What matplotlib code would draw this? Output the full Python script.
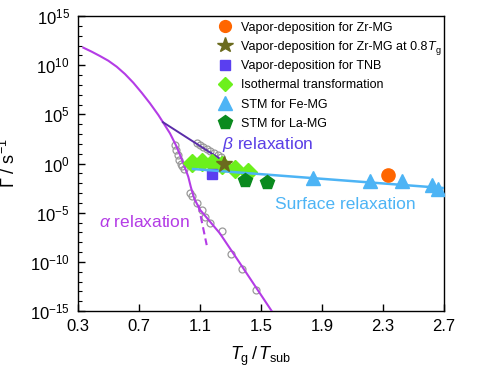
import numpy as np
import matplotlib
matplotlib.use("Agg")
import matplotlib.pyplot as plt
from matplotlib.lines import Line2D
from matplotlib.ticker import NullFormatter

plt.rcParams['font.family'] = 'Liberation Sans'
plt.rcParams['mathtext.fontset'] = 'custom'
plt.rcParams['mathtext.rm'] = 'Liberation Sans'
plt.rcParams['mathtext.it'] = 'Liberation Sans:italic'
plt.rcParams['mathtext.bf'] = 'Liberation Sans:bold'

# ---------------- data (x = Tg/Tsub, values as log10 of rate) ----------------
alpha_x = [0.335, 0.390, 0.444, 0.499, 0.554, 0.608, 0.663, 0.718, 0.772, 0.827,
           0.859, 0.903, 0.947, 0.991, 1.023, 1.040, 1.063, 1.10, 1.23, 1.36, 1.57]
alpha_log = [11.78, 11.37, 10.93, 10.45, 9.84, 9.10, 8.21, 7.19, 6.12, 4.93,
             4.15, 3.07, 1.71, 0.02, -1.34, -2.4, -3.6, -4.7, -7.1, -10.1, -15.0]

alpha_dash_x = [1.089, 1.144]
alpha_dash_log = [-4.2, -8.3]

beta_x = [0.857, 1.244]
beta_log = [4.2, 0.35]

surf_x = [1.054, 2.7]
surf_log = [-0.56, -2.5]

circ_x = [0.935, 0.945, 0.955, 0.965, 0.975, 0.985, 0.995,
          1.08, 1.10, 1.12, 1.146, 1.166, 1.192, 1.218, 1.238,
          1.035, 1.05, 1.08, 1.11, 1.13, 1.165, 1.245, 1.30, 1.375, 1.467]
circ_log = [1.9, 1.4, 0.9, 0.4, 0.0, -0.3, -0.6,
            2.08, 1.88, 1.67, 1.47, 1.27, 1.06, 0.86, 0.66,
            -3.0, -3.3, -4.0, -4.7, -5.4, -6.1, -6.9, -9.2, -10.7, -12.9]

zr_x = [2.333]
zr_log = [-1.17]

zr08_x = [1.257]
zr08_log = [-0.06]

tnb_x = [1.179]
tnb_log = [-1.07]

iso_x = [1.048, 1.113, 1.179, 1.244, 1.33, 1.415]
iso_log = [0.05, 0.15, 0.05, -0.16, -0.56, -0.87]

fe_x = [1.841, 2.215, 2.425, 2.62, 2.66]
fe_log = [-1.48, -1.78, -1.78, -2.2, -2.6]

la_x = [1.395, 1.539]
la_log = [-1.68, -1.89]

labels = ["Vapor-deposition for Zr-MG",
          "Vapor-deposition for Zr-MG at 0.8",
          "Vapor-deposition for TNB",
          "Isothermal transformation",
          "STM for Fe-MG",
          "STM for La-MG"]
label2_tail = ("T", "g")   # italic T with subscript g appended to legend row 2

xticks = [0.3, 0.7, 1.1, 1.5, 1.9, 2.3, 2.7]
xtick_labels = ["0.3", "0.7", "1.1", "1.5", "1.9", "2.3", "2.7"]
ytick_exps = [-15, -10, -5, 0, 5, 10, 15]

# ---------------- colours ----------------
c_alpha = '#b43ce6'
c_beta_line = '#5a2ca8'
c_beta_text = '#5a3ee6'
c_surf = '#4db4f5'
c_orange = '#ff6600'
c_olive = '#6b6b1e'
c_square = '#5a3ff0'
c_diam = '#6cf01c'
c_tri = '#4db4f5'
c_pent = '#0a8a1e'

p = lambda v: 10.0 ** np.asarray(v)

fig = plt.figure(figsize=(4.81, 3.73), dpi=100)
ax = fig.add_axes([78 / 481, 62 / 373, 366 / 481, 295 / 373])

ax.plot(alpha_x, p(alpha_log), color=c_alpha, lw=1.5, zorder=3)
ax.plot(alpha_dash_x, p(alpha_dash_log), color=c_alpha, lw=1.5, ls=(0, (3.5, 2)), zorder=3)
ax.plot(circ_x, p(circ_log), ls='none', marker='o', ms=5, mfc='none', mec='#9a9a9a', mew=0.9, zorder=2)
ax.plot(beta_x, p(beta_log), color=c_beta_line, lw=1.4, zorder=4)

ax.plot(iso_x, p(iso_log), ls='none', marker='D', ms=9.5, color=c_diam, mec=c_diam, zorder=5)
ax.plot(tnb_x, p(tnb_log), ls='none', marker='s', ms=7.5, color=c_square, mec=c_square, zorder=5)
ax.plot(surf_x, p(surf_log), color=c_surf, lw=1.8, zorder=6)
ax.plot(la_x, p(la_log), ls='none', marker='p', ms=10, color=c_pent, mec=c_pent, zorder=7)
ax.plot(fe_x, p(fe_log), ls='none', marker='^', ms=9.5, color=c_tri, mec=c_tri, zorder=7)
ax.plot(zr_x, p(zr_log), ls='none', marker='o', ms=9.5, color=c_orange, mec=c_orange, zorder=8)
ax.plot(zr08_x, p(zr08_log), ls='none', marker='*', ms=12, color=c_olive, mec=c_olive, zorder=8)

ax.set_xlim(0.3, 2.7)
ax.set_yscale('log')
ax.set_ylim(1e-15, 1e15)
ax.set_xticks(xticks)
ax.set_xticklabels(xtick_labels)
ax.set_yticks([10.0 ** k for k in ytick_exps])
ax.set_yticklabels([r'$\mathregular{10^{%d}}$' % k for k in ytick_exps])
ax.set_yticks([10.0 ** k for k in range(-15, 16)], minor=True)
ax.yaxis.set_minor_formatter(NullFormatter())
ax.tick_params(axis='both', which='major', direction='in', length=5, width=1,
               labelsize=12, top=False, right=False, pad=6)
ax.tick_params(axis='y', which='minor', direction='in', length=3, width=0.8, right=False)
ax.tick_params(axis='x', which='minor', bottom=False, top=False)
for s in ax.spines.values():
    s.set_linewidth(1.0)

ax.set_xlabel(r'$\mathit{T}_\mathrm{g}\,/\,\mathit{T}_\mathrm{sub}$', fontsize=13)
ax.xaxis.set_label_coords(0.5, -0.115)
ax.set_ylabel(r'$\mathit{\Gamma}$ / s$^{-1}$', fontsize=13)
ax.yaxis.set_label_coords(-0.16, 0.5)

ax.text(1.244, p(1.9), r'$\mathit{\beta}$ relaxation', color=c_beta_text, fontsize=12.5,
        ha='left', va='center')
ax.text(0.438, p(-5.96), r'$\mathit{\alpha}$ relaxation', color=c_alpha, fontsize=12.5,
        ha='left', va='center')
ax.text(1.592, p(-4.2), 'Surface relaxation', color=c_surf, fontsize=12.5,
        ha='left', va='center')

handles = [
    Line2D([], [], ls='none', marker='o', ms=8.5, color=c_orange),
    Line2D([], [], ls='none', marker='*', ms=11.5, color=c_olive),
    Line2D([], [], ls='none', marker='s', ms=7, color=c_square),
    Line2D([], [], ls='none', marker='D', ms=7.5, color=c_diam),
    Line2D([], [], ls='none', marker='^', ms=9.5, color=c_tri),
    Line2D([], [], ls='none', marker='p', ms=10, color=c_pent),
]
leg = ax.legend(handles, labels, loc='upper left', bbox_to_anchor=(0.3846, 0.981),
                frameon=False, fontsize=9, borderpad=0, borderaxespad=0,
                handlelength=1.0, handletextpad=0.78, labelspacing=0.58)
leg.set_zorder(20)

row2 = leg.get_texts()[1]
t_ann = ax.annotate(label2_tail[0], xy=(1, 0), xycoords=row2, xytext=(0.3, 0),
                    textcoords='offset points', ha='left', va='bottom',
                    fontsize=9, fontstyle='italic', zorder=30, annotation_clip=False)
ax.annotate(label2_tail[1], xy=(1, 0), xycoords=t_ann, xytext=(0, -1.3),
            textcoords='offset points', ha='left', va='bottom',
            fontsize=6.5, zorder=31, annotation_clip=False)

fig.canvas.draw()
fig.savefig('out.png', dpi=100)
